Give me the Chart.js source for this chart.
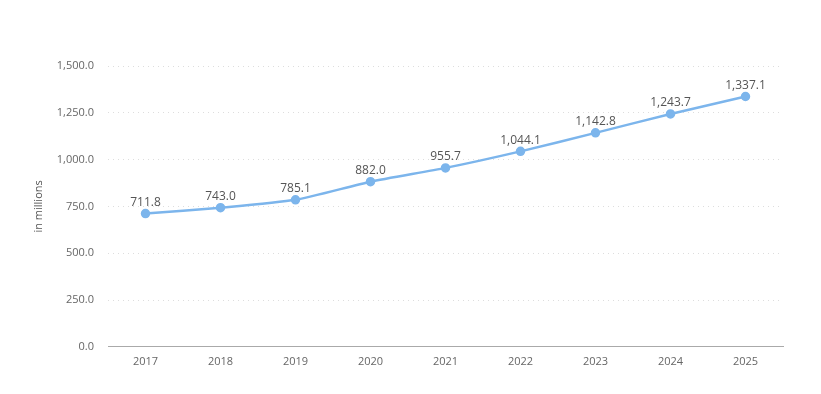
<!DOCTYPE html>
<html>
<head>
<meta charset="utf-8">
<script src="https://cdn.jsdelivr.net/npm/chart.js@4"></script>
<style>
  html, body { margin: 0; padding: 0; background: #fff; }
  #wrap { width: 821px; height: 394px; }
</style>
</head>
<body>
<div id="wrap"><canvas id="chart" width="821" height="394"></canvas></div>
<script>
// data
const years = ['2017', '2018', '2019', '2020', '2021', '2022', '2023', '2024', '2025']
const users = [711.8, 743.0, 785.1, 882.0, 955.7, 1044.1, 1142.8, 1243.7, 1337.1]
const yTicks = [0, 250, 500, 750, 1000, 1250, 1500]

const fmt = v => v.toLocaleString('en-US', {minimumFractionDigits: 1, maximumFractionDigits: 1})
const fontFamily = '"Open Sans", "DejaVu Sans", sans-serif'

// draws the value over each point
const valueLabels = {
    id: 'valueLabels',
    afterDatasetsDraw(chart) {
        const ctx = chart.ctx
        const meta = chart.getDatasetMeta(0)
        ctx.save()
        ctx.font = '12px ' + fontFamily
        ctx.fillStyle = '#555'
        ctx.textAlign = 'center'
        ctx.textBaseline = 'bottom'
        meta.data.forEach((pt, i) => {
            ctx.fillText(fmt(users[i]), pt.x, pt.y - 5)
        })
        ctx.restore()
    }
}

const config = {
    type: 'line',
    data: {
        labels: years,
        datasets: [{
            label: 'in millions',
            data: users,
            borderColor: '#7cb5ec',
            backgroundColor: '#7cb5ec',
            borderWidth: 2.5,
            pointRadius: 3.5,
            pointHoverRadius: 3.5,
            tension: 0.2,
        }]
    },
    options: {
        responsive: false,
        animation: false,
        layout: {padding: {top: 66, right: 38, bottom: 18, left: 32}},
        plugins: {
            legend: {display: false},
            tooltip: {enabled: false},
        },
        scales: {
            x: {
                offset: true,
                grid: {display: false, drawTicks: false},
                border: {color: '#aaa', width: 1},
                ticks: {color: '#666', font: {size: 11, family: fontFamily}, padding: 8},
            },
            y: {
                min: 0,
                max: 1500,
                afterBuildTicks: s => { s.ticks = yTicks.map(v => ({value: v})) },
                afterFit: s => { s.width = 76 },
                grid: {color: '#ddd', drawTicks: false, lineWidth: 1},
                border: {display: false, dash: [1, 4]},
                ticks: {
                    color: '#666',
                    font: {size: 11, family: fontFamily},
                    padding: 14,
                    callback: v => fmt(v),
                },
                title: {
                    display: true,
                    text: 'in millions',
                    color: '#555',
                    font: {size: 11, family: fontFamily},
                    padding: {top: 0, bottom: 0},
                },
            }
        }
    },
    plugins: [valueLabels]
}

const myChart = new Chart(document.getElementById('chart'), config)
</script>
</body>
</html>
